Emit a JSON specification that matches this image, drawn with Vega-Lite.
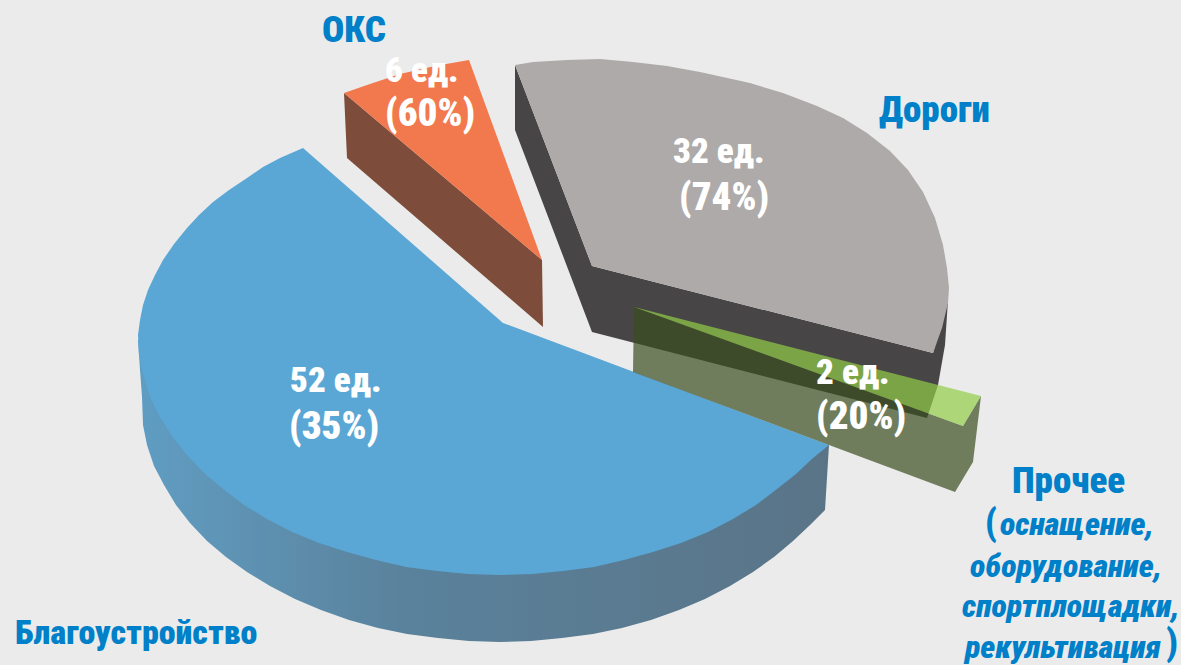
{"$schema":"https://vega.github.io/schema/vega-lite/v6.json","width":1181,"height":665,"autosize":"none","padding":0,"background":"#ebebeb","view":{"stroke":null},
"datasets":{"outline":[
{"p":"orangeSide","x":344,"y":93},{"p":"orangeSide","x":347,"y":158},{"p":"orangeSide","x":543,"y":327},{"p":"orangeSide","x":542,"y":260},
{"p":"orangeTop","x":344,"y":93},{"p":"orangeTop","x":367,"y":85},{"p":"orangeTop","x":400,"y":74},{"p":"orangeTop","x":435,"y":66},{"p":"orangeTop","x":469,"y":60},{"p":"orangeTop","x":542,"y":260},
{"p":"greySide","x":515,"y":65},{"p":"greySide","x":515,"y":130},{"p":"greySide","x":592,"y":332},{"p":"greySide","x":927,"y":418},{"p":"greySide","x":938,"y":385},{"p":"greySide","x":945,"y":345},{"p":"greySide","x":948,"y":300},{"p":"greySide","x":933,"y":353},{"p":"greySide","x":592,"y":266},
{"p":"greyTop","x":515,"y":65},{"p":"greyTop","x":533,"y":62},{"p":"greyTop","x":567,"y":60},{"p":"greyTop","x":600,"y":59},{"p":"greyTop","x":633,"y":62},{"p":"greyTop","x":667,"y":66},{"p":"greyTop","x":700,"y":72},{"p":"greyTop","x":750,"y":83},{"p":"greyTop","x":783,"y":93},{"p":"greyTop","x":817,"y":106},{"p":"greyTop","x":843,"y":118},{"p":"greyTop","x":867,"y":133},{"p":"greyTop","x":890,"y":151},{"p":"greyTop","x":908,"y":170},{"p":"greyTop","x":923,"y":192},{"p":"greyTop","x":935,"y":218},{"p":"greyTop","x":943,"y":245},{"p":"greyTop","x":947,"y":268},{"p":"greyTop","x":949,"y":288},{"p":"greyTop","x":948,"y":303},{"p":"greyTop","x":942,"y":328},{"p":"greyTop","x":933,"y":353},{"p":"greyTop","x":592,"y":266},
{"p":"blueSide","x":138,"y":340},{"p":"blueSide","x":140,"y":370},{"p":"blueSide","x":142,"y":397},{"p":"blueSide","x":143,"y":425},{"p":"blueSide","x":147,"y":445},{"p":"blueSide","x":154,"y":466},{"p":"blueSide","x":164,"y":485},{"p":"blueSide","x":176,"y":505},{"p":"blueSide","x":190,"y":523},{"p":"blueSide","x":207,"y":541},{"p":"blueSide","x":226,"y":557},{"p":"blueSide","x":247,"y":572},{"p":"blueSide","x":270,"y":586},{"p":"blueSide","x":295,"y":599},{"p":"blueSide","x":321,"y":610},{"p":"blueSide","x":349,"y":620},{"p":"blueSide","x":378,"y":628},{"p":"blueSide","x":407,"y":634},{"p":"blueSide","x":438,"y":638},{"p":"blueSide","x":469,"y":641},{"p":"blueSide","x":500,"y":642},{"p":"blueSide","x":531,"y":641},{"p":"blueSide","x":562,"y":638},{"p":"blueSide","x":593,"y":634},{"p":"blueSide","x":622,"y":628},{"p":"blueSide","x":651,"y":620},{"p":"blueSide","x":679,"y":610},{"p":"blueSide","x":705,"y":599},{"p":"blueSide","x":730,"y":586},{"p":"blueSide","x":753,"y":572},{"p":"blueSide","x":774,"y":557},{"p":"blueSide","x":793,"y":541},{"p":"blueSide","x":810,"y":525},{"p":"blueSide","x":825,"y":510},{"p":"blueSide","x":829,"y":445},
{"p":"blueTop","x":503,"y":323},{"p":"blueTop","x":303,"y":148},{"p":"blueTop","x":280,"y":158},{"p":"blueTop","x":263,"y":167},{"p":"blueTop","x":247,"y":178},{"p":"blueTop","x":229,"y":190},{"p":"blueTop","x":213,"y":202},{"p":"blueTop","x":199,"y":215},{"p":"blueTop","x":187,"y":228},{"p":"blueTop","x":174,"y":244},{"p":"blueTop","x":163,"y":260},{"p":"blueTop","x":155,"y":275},{"p":"blueTop","x":148,"y":290},{"p":"blueTop","x":143,"y":305},{"p":"blueTop","x":140,"y":320},{"p":"blueTop","x":138,"y":335},{"p":"blueTop","x":139,"y":356},{"p":"blueTop","x":144,"y":377},{"p":"blueTop","x":150,"y":397},{"p":"blueTop","x":160,"y":417},{"p":"blueTop","x":172,"y":436},{"p":"blueTop","x":187,"y":455},{"p":"blueTop","x":204,"y":473},{"p":"blueTop","x":223,"y":489},{"p":"blueTop","x":244,"y":505},{"p":"blueTop","x":267,"y":519},{"p":"blueTop","x":292,"y":532},{"p":"blueTop","x":319,"y":543},{"p":"blueTop","x":347,"y":552},{"p":"blueTop","x":376,"y":560},{"p":"blueTop","x":406,"y":567},{"p":"blueTop","x":437,"y":571},{"p":"blueTop","x":468,"y":574},{"p":"blueTop","x":500,"y":575},{"p":"blueTop","x":532,"y":574},{"p":"blueTop","x":563,"y":571},{"p":"blueTop","x":594,"y":567},{"p":"blueTop","x":624,"y":560},{"p":"blueTop","x":653,"y":552},{"p":"blueTop","x":681,"y":543},{"p":"blueTop","x":708,"y":532},{"p":"blueTop","x":733,"y":519},{"p":"blueTop","x":756,"y":505},{"p":"blueTop","x":777,"y":489},{"p":"blueTop","x":796,"y":474},{"p":"blueTop","x":813,"y":458},{"p":"blueTop","x":829,"y":445},
{"p":"greenSide","x":634,"y":307},{"p":"greenSide","x":633,"y":372},{"p":"greenSide","x":955,"y":492},{"p":"greenSide","x":973,"y":462},{"p":"greenSide","x":981,"y":396},{"p":"greenSide","x":963,"y":426},
{"p":"greenTop","x":634,"y":307},{"p":"greenTop","x":981,"y":396},{"p":"greenTop","x":963,"y":426}
],
"labels":[
{"kind":"count","label":"6 ед.","x":385,"y":82},{"kind":"share","label":"(60%)","x":385,"y":126},
{"kind":"count","label":"32 ед.","x":673,"y":163},{"kind":"share","label":"(74%)","x":679,"y":210},
{"kind":"count","label":"52 ед.","x":290,"y":392},{"kind":"share","label":"(35%)","x":289,"y":439},
{"kind":"count","label":"2 ед.","x":816,"y":384},{"kind":"share","label":"(20%)","x":816,"y":429},
{"kind":"name","label":"ОКС","x":322,"y":42},{"kind":"name","label":"Дороги","x":879,"y":122},{"kind":"long","label":"Благоустройство","x":15,"y":644},{"kind":"name","label":"Прочее","x":1012,"y":493},
{"kind":"name","label":"(","x":985,"y":535},{"kind":"name","label":")","x":1166,"y":655},
{"kind":"note","label":"оснащение,","x":1000,"y":535},{"kind":"note","label":"оборудование,","x":970,"y":577},{"kind":"note","label":"спортплощадки,","x":962,"y":617},{"kind":"note","label":"рекультивация","x":965,"y":658}
]},
"encoding":{"x":{"field":"x","type":"quantitative","scale":{"domain":[0,1181],"nice":false,"zero":false},"axis":null},"y":{"field":"y","type":"quantitative","scale":{"domain":[665,0],"nice":false,"zero":false},"axis":null}},
"layer":[
{"data":{"name":"outline"},"transform":[{"filter":"datum.p==='orangeSide'"}],"mark":{"type":"line","fill":"#7d4c3a","strokeWidth":0},"encoding":{"order":{"value":null}}},
{"data":{"name":"outline"},"transform":[{"filter":"datum.p==='orangeTop'"}],"mark":{"type":"line","fill":"#f2784d","strokeWidth":0},"encoding":{"order":{"value":null}}},
{"data":{"name":"outline"},"transform":[{"filter":"datum.p==='greySide'"}],"mark":{"type":"line","fill":"#484546","strokeWidth":0},"encoding":{"order":{"value":null}}},
{"data":{"name":"outline"},"transform":[{"filter":"datum.p==='greyTop'"}],"mark":{"type":"line","fill":"#aeaaa9","strokeWidth":0},"encoding":{"order":{"value":null}}},
{"data":{"name":"outline"},"transform":[{"filter":"datum.p==='blueSide'"}],"mark":{"type":"line","strokeWidth":0,"fill":{"gradient":"linear","x1":0,"x2":1,"y1":0,"y2":0,"stops":[{"offset":0,"color":"#5f9dc3"},{"offset":0.1,"color":"#5f96b8"},{"offset":0.38,"color":"#5a829c"},{"offset":1,"color":"#5a7487"}]}},"encoding":{"order":{"value":null}}},
{"data":{"name":"outline"},"transform":[{"filter":"datum.p==='blueTop'"}],"mark":{"type":"line","fill":"#5aa7d5","strokeWidth":0},"encoding":{"order":{"value":null}}},
{"data":{"name":"outline"},"transform":[{"filter":"datum.p==='greenSide'"}],"mark":{"type":"line","fill":"#3a4f1f","fillOpacity":0.7,"strokeWidth":0},"encoding":{"order":{"value":null}}},
{"data":{"name":"outline"},"transform":[{"filter":"datum.p==='greenTop'"}],"mark":{"type":"line","fill":"#91cd47","fillOpacity":0.7,"strokeWidth":0},"encoding":{"order":{"value":null}}},
{"data":{"name":"labels"},"transform":[{"filter":"datum.kind==='count'"}],"mark":{"type":"text","font":"Roboto Condensed, Roboto","fontWeight":900,"fontSize":35,"color":"#ffffff","align":"left","baseline":"alphabetic"},"encoding":{"text":{"field":"label"}}},
{"data":{"name":"labels"},"transform":[{"filter":"datum.kind==='share'"}],"mark":{"type":"text","font":"Roboto Condensed, Roboto","fontWeight":900,"fontSize":39,"color":"#ffffff","align":"left","baseline":"alphabetic"},"encoding":{"text":{"field":"label"}}},
{"data":{"name":"labels"},"transform":[{"filter":"datum.kind==='name'"}],"mark":{"type":"text","font":"Roboto Condensed, Roboto","fontWeight":900,"fontSize":37,"color":"#0080c8","align":"left","baseline":"alphabetic"},"encoding":{"text":{"field":"label"}}},
{"data":{"name":"labels"},"transform":[{"filter":"datum.kind==='long'"}],"mark":{"type":"text","font":"Roboto Condensed, Roboto","fontWeight":900,"fontSize":34,"color":"#0080c8","align":"left","baseline":"alphabetic"},"encoding":{"text":{"field":"label"}}},
{"data":{"name":"labels"},"transform":[{"filter":"datum.kind==='note'"}],"mark":{"type":"text","font":"Roboto Condensed, Roboto","fontWeight":900,"fontStyle":"italic","fontSize":32,"color":"#0080c8","align":"left","baseline":"alphabetic"},"encoding":{"text":{"field":"label"}}}
]}
